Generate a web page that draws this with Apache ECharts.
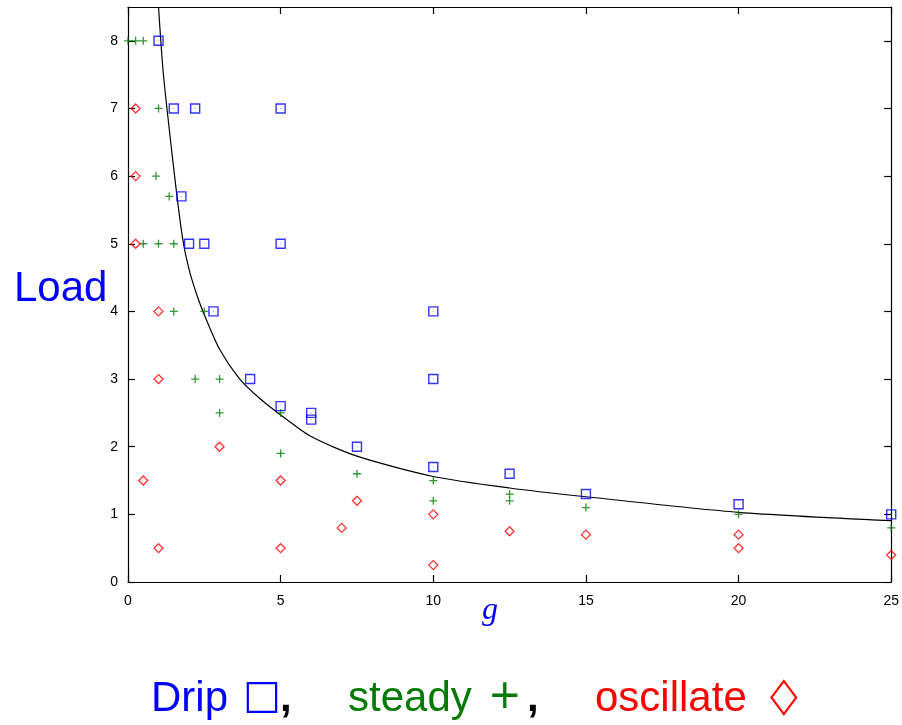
<!DOCTYPE html>
<html>
<head>
<meta charset="utf-8">
<script src="https://cdn.jsdelivr.net/npm/echarts@6/dist/echarts.min.js"></script>
<style>html,body{margin:0;padding:0;background:#fff}#c{width:902px;height:725px}</style>
</head>
<body>
<div id="c"></div>
<script>
// Drip (blue squares)
const dripX = [1, 1.5, 2.2, 5, 1.75, 2, 2.5, 5, 2.8, 10, 4, 10, 5, 6, 6, 7.5, 10, 12.5, 15, 20, 25];
const dripY = [8, 7, 7, 7, 5.7, 5, 5, 5, 4, 4, 3, 3, 2.6, 2.5, 2.4, 2, 1.7, 1.6, 1.3, 1.15, 1.0];
// steady (green plus)
const steadyX = [0, 0.25, 0.5, 1, 0.92, 1.35, 0.5, 1, 1.5, 1.5, 2.5, 2.2, 3, 3, 5, 5, 7.5, 10, 10, 12.5, 12.5, 15, 20, 25];
const steadyY = [8, 8, 8, 7, 6, 5.7, 5, 5, 5, 4, 4, 3, 3, 2.5, 2.5, 1.9, 1.6, 1.5, 1.2, 1.3, 1.2, 1.1, 1.0, 0.8];
// oscillate (red diamonds)
const oscX = [0.25, 0.25, 0.25, 1, 1, 3, 0.5, 5, 1, 5, 7.5, 7, 10, 10, 12.5, 15, 20, 20, 25];
const oscY = [7, 6, 5, 4, 3, 2, 1.5, 1.5, 0.5, 0.5, 1.2, 0.8, 1.0, 0.25, 0.75, 0.7, 0.7, 0.5, 0.4];
// boundary curve
const curveX = [1.0, 1.15, 1.35, 1.6, 1.8, 2.0, 2.25, 2.5, 3.0, 3.66, 4.3, 5.0, 6.0, 7.5, 10, 12.5, 15, 20, 25];
const curveY = [8.5, 7.55, 6.7, 5.72, 5.05, 4.62, 4.25, 3.95, 3.44, 3.0, 2.72, 2.47, 2.15, 1.86, 1.56, 1.39, 1.26, 1.03, 0.906];
// ticks
const xTicks = [0, 5, 10, 15, 20, 25];
const yTicks = [0, 1, 2, 3, 4, 5, 6, 7, 8];

const zip = (a, b) => a.map((v, i) => [v, b[i]]);
const BLUE = '#0000ff', GREEN = '#007a00', RED = '#ff0000';
const FONT = '"Liberation Sans", Arial, sans-serif';

const chart = echarts.init(document.getElementById('c'), null, {renderer: 'canvas'});
const axisLine = () => ({show: true, onZero: false, lineStyle: {color: '#000', width: 1.2}});
const tick = (vals) => ({show: true, inside: true, length: 7, customValues: vals, lineStyle: {color: '#000', width: 1.2}});

chart.setOption({
  animation: false,
  backgroundColor: '#fff',
  grid: {left: 128, right: 9, top: 7, bottom: 143},
  xAxis: [
    {type: 'value', position: 'bottom', min: 0, max: 25, interval: 5,
     axisLine: axisLine(), axisTick: tick(xTicks), splitLine: {show: false},
     axisLabel: {customValues: xTicks, margin: 12, color: '#000', fontSize: 14, fontFamily: FONT}},
    {type: 'value', position: 'top', min: 0, max: 25, interval: 5,
     axisLine: axisLine(), axisTick: tick(xTicks), splitLine: {show: false}, axisLabel: {show: false}}
  ],
  yAxis: [
    {type: 'value', position: 'left', min: 0, max: 8.5, interval: 1,
     axisLine: axisLine(), axisTick: tick(yTicks), splitLine: {show: false},
     axisLabel: {customValues: yTicks, margin: 10, color: '#000', fontSize: 14, fontFamily: FONT}},
    {type: 'value', position: 'right', min: 0, max: 8.5, interval: 1,
     axisLine: axisLine(), axisTick: tick(yTicks), splitLine: {show: false}, axisLabel: {show: false}}
  ],
  series: [
    {type: 'line', data: zip(curveX, curveY), smooth: 0.25, showSymbol: false,
     lineStyle: {color: '#000', width: 1.2}, z: 1},
    {type: 'scatter', name: 'steady', data: zip(steadyX, steadyY),
     symbol: 'path://M0,5L10,5M5,0L5,10', symbolSize: 8,
     itemStyle: {color: 'none', borderColor: GREEN, borderWidth: 1.3}, z: 2},
    {type: 'scatter', name: 'oscillate', data: zip(oscX, oscY),
     symbol: 'diamond', symbolSize: [9, 9],
     itemStyle: {color: 'none', borderColor: RED, borderWidth: 1.3}, z: 3},
    {type: 'scatter', name: 'Drip', data: zip(dripX, dripY),
     symbol: 'rect', symbolSize: 9,
     itemStyle: {color: 'none', borderColor: BLUE, borderWidth: 1.4}, z: 4},
    {type: 'scatter', name: 'DripDot', data: zip(dripX, dripY),
     symbol: 'rect', symbolSize: 1, silent: true,
     itemStyle: {color: '#8080ff'}, z: 5}
  ],
  graphic: [
    {type: 'text', left: 14, top: 268, style: {text: 'Load', fill: BLUE, font: '42px ' + FONT}},
    {type: 'text', left: 482, top: 595, style: {text: 'g', fill: BLUE, font: 'italic 32px "Liberation Serif", "DejaVu Serif", serif'}},
    {type: 'text', left: 151, top: 678, style: {text: 'Drip', fill: BLUE, font: '42px ' + FONT}},
    {type: 'text', left: 243, top: 678, style: {text: '\u25A1', fill: BLUE, font: '40px "DejaVu Sans", sans-serif'}},
    {type: 'text', left: 280, top: 678, style: {text: ',', fill: '#000', font: 'bold 42px ' + FONT}},
    {type: 'text', left: 348, top: 678, style: {text: 'steady', fill: GREEN, font: '42px ' + FONT}},
    {type: 'text', left: 488, top: 678, style: {text: '+', fill: GREEN, font: '40px "DejaVu Sans", sans-serif'}},
    {type: 'text', left: 527, top: 678, style: {text: ',', fill: '#000', font: 'bold 42px ' + FONT}},
    {type: 'text', left: 595, top: 678, style: {text: 'oscillate', fill: RED, font: '42px ' + FONT}},
    {type: 'text', x: 770, y: 674, scaleX: 0.9, scaleY: 1.2, style: {text: '\u25C7', fill: RED, font: '40px "DejaVu Sans", sans-serif'}}
  ]
});
</script>
</body>
</html>
